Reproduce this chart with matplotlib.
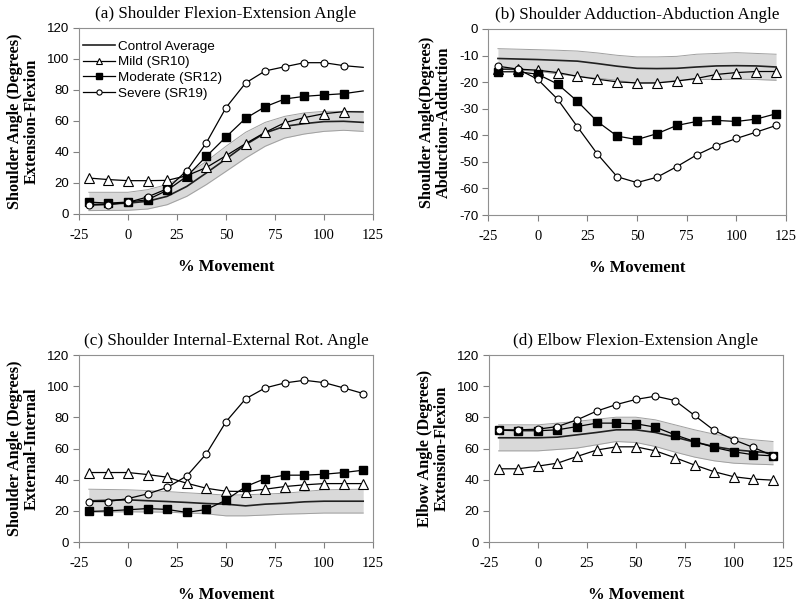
import matplotlib
matplotlib.use("Agg")
import matplotlib.pyplot as plt
import numpy as np

plt.rcParams["axes.unicode_minus"] = False

# % movement sample points
pct = [-20, -10, 0, 10, 20, 30, 40, 50, 60, 70, 80, 90, 100, 110, 120]

# (a) shoulder flexion-extension
a_mild = [23.2, 22.2, 21.5, 21.5, 21.7, 24.7, 30.0, 37.6, 45.4, 52.7, 58.9, 62.2, 64.7, 66.0, 65.8]
a_mod = [7.7, 7.0, 7.7, 9.2, 15.3, 24.3, 37.2, 49.7, 61.7, 69.2, 74.2, 75.9, 76.8, 77.6, 79.4]
a_sev = [5.8, 6.0, 7.5, 11.0, 16.3, 28.0, 46.0, 68.6, 84.5, 92.3, 95.0, 97.6, 97.6, 95.7, 94.6]
a_ctrl = [6.0, 6.5, 7.0, 8.2, 11.4, 17.8, 26.5, 35.5, 44.7, 52.3, 56.6, 58.3, 59.6, 59.8, 59.1]
a_hi = [14.0, 14.0, 14.0, 15.7, 19.0, 25.4, 34.0, 43.7, 52.7, 59.1, 63.0, 65.2, 66.2, 66.2, 66.2]
a_lo = [2.2, 2.3, 2.4, 3.2, 6.0, 11.4, 19.0, 27.5, 36.1, 43.7, 49.0, 51.6, 53.3, 54.0, 53.3]

# (b) shoulder adduction-abduction
b_mild = [-15.1, -15.1, -15.5, -16.4, -17.8, -18.9, -19.9, -20.3, -20.3, -19.6, -18.6, -17.1, -16.4, -16.0, -16.0]
b_mod = [-16.1, -16.1, -17.0, -20.7, -27.2, -34.8, -40.3, -41.6, -39.4, -36.3, -34.8, -34.4, -34.8, -33.9, -31.9]
b_sev = [-14.0, -15.1, -18.9, -26.4, -36.8, -47.0, -55.6, -57.8, -55.8, -51.8, -47.4, -43.9, -41.2, -38.8, -36.3]
b_ctrl = [-11.1, -11.3, -11.5, -11.8, -12.1, -13.0, -14.0, -14.8, -14.9, -14.8, -14.3, -13.9, -13.8, -13.9, -14.3]
b_hi = [-7.4, -7.6, -7.8, -8.0, -8.3, -9.0, -9.9, -10.5, -10.5, -10.3, -9.5, -9.2, -8.9, -9.2, -9.5]
b_lo = [-15.1, -15.5, -15.9, -16.9, -17.8, -18.5, -19.3, -20.5, -20.3, -19.3, -19.0, -19.0, -18.9, -19.0, -19.3]

# (c) shoulder internal-external rotation
c_mild = [44.6, 44.6, 44.6, 43.3, 41.6, 37.7, 34.5, 32.6, 32.4, 33.9, 35.6, 36.7, 37.5, 37.5, 37.5]
c_mod = [19.6, 20.0, 20.7, 21.5, 20.9, 19.0, 20.9, 26.9, 35.6, 40.7, 42.9, 42.9, 43.5, 44.6, 46.1]
c_sev = [26.0, 26.0, 27.9, 30.9, 35.0, 42.4, 56.7, 77.2, 91.9, 98.9, 102.1, 103.8, 102.3, 98.9, 95.3]
c_ctrl = [26.4, 26.8, 27.1, 26.5, 26.0, 25.4, 24.7, 24.3, 23.2, 24.3, 24.9, 25.8, 26.2, 26.2, 26.2]
c_hi = [33.9, 33.7, 33.5, 33.0, 32.4, 31.6, 30.9, 30.1, 30.3, 30.8, 31.3, 32.4, 33.5, 33.7, 33.9]
c_lo = [19.2, 19.3, 19.4, 19.3, 19.2, 18.6, 18.1, 16.8, 16.8, 17.3, 17.9, 18.2, 18.6, 18.6, 18.6]

# (d) elbow flexion-extension
d_mild = [47.0, 47.0, 48.7, 50.6, 54.9, 59.0, 61.1, 61.1, 58.5, 54.1, 49.4, 45.1, 41.9, 40.4, 39.7]
d_mod = [71.8, 71.4, 71.4, 72.0, 74.1, 76.3, 76.3, 75.9, 73.7, 68.8, 64.5, 60.7, 57.9, 56.0, 55.3]
d_sev = [72.0, 72.0, 72.4, 74.1, 78.4, 84.0, 88.2, 91.5, 93.6, 90.8, 81.2, 71.6, 65.6, 60.7, 55.3]
d_ctrl = [66.9, 66.9, 66.9, 67.3, 68.8, 70.3, 72.0, 72.0, 70.3, 67.3, 64.1, 61.3, 59.2, 58.1, 57.0]
d_hi = [75.2, 75.2, 75.2, 76.3, 77.4, 78.8, 80.1, 80.1, 78.4, 75.2, 72.0, 69.2, 67.1, 65.6, 64.5]
d_lo = [58.5, 58.5, 58.5, 59.4, 60.3, 62.4, 64.5, 63.9, 61.3, 57.7, 54.5, 52.1, 50.6, 50.0, 49.6]

titles = ["(a) Shoulder Flexion-Extension Angle",
          "(b) Shoulder Adduction-Abduction Angle",
          "(c) Shoulder Internal-External Rot. Angle",
          "(d) Elbow Flexion-Extension Angle"]
ylabels = ["Shoulder Angle (Degrees)\nExtension-Flexion",
           "Shoulder Angle(Degrees)\nAbduction-Adduction",
           "Shoulder Angle (Degrees)\nExternal-Internal",
           "Elbow Angle (Degrees)\nExtension-Flexion"]
xticks = [-25, 0, 25, 50, 75, 100, 125]

panels = [
    (a_mild, a_mod, a_sev, a_ctrl, a_hi, a_lo, (0, 120), 20),
    (b_mild, b_mod, b_sev, b_ctrl, b_hi, b_lo, (-70, 0), 10),
    (c_mild, c_mod, c_sev, c_ctrl, c_hi, c_lo, (0, 120), 20),
    (d_mild, d_mod, d_sev, d_ctrl, d_hi, d_lo, (0, 120), 20),
]
rects = [
    [0.09875, 0.6457, 0.3675, 0.308],
    [0.61, 0.644, 0.3725, 0.308],
    [0.09875, 0.1026, 0.3675, 0.3096],
    [0.611, 0.1026, 0.3675, 0.3096],
]

serif = "Liberation Serif"
sans = "Liberation Sans"

fig = plt.figure(figsize=(8, 6.04), dpi=100)

for i, (mild, mod, sev, ctrl, hi, lo, ylim, ystep) in enumerate(panels):
    ax = fig.add_axes(rects[i])
    # markers stop at 110 in panel (a)
    mk = list(range(len(pct) - 1)) if i == 0 else None

    ax.fill_between(pct, lo, hi, color="#d9d9d9", lw=0)
    ax.plot(pct, hi, color="#a0a0a0", lw=0.7)
    ax.plot(pct, lo, color="#a0a0a0", lw=0.7)
    ax.plot(pct, ctrl, color="#202020", lw=1.2, label="Control Average")
    ax.plot(pct, mild, color="black", lw=0.9, marker="^", ms=6.5, mfc="white",
            mec="black", mew=0.8, markevery=mk, label="Mild (SR10)")
    ax.plot(pct, mod, color="black", lw=0.9, marker="s", ms=5.5, mfc="black",
            mec="black", markevery=mk, label="Moderate (SR12)")
    ax.plot(pct, sev, color="black", lw=0.9, marker="o", ms=5, mfc="white",
            mec="black", mew=0.8, markevery=mk, label="Severe (SR19)")

    ax.set_xlim(-25, 125)
    ax.set_ylim(*ylim)
    ax.set_xticks(xticks)
    ax.set_yticks(np.arange(ylim[0], ylim[1] + 1, ystep))
    for s in ax.spines.values():
        s.set_color("#909090")
    ax.tick_params(axis="both", direction="out", length=4, color="#808080", width=0.8)
    for lab in ax.get_xticklabels():
        lab.set_fontfamily(serif)
        lab.set_fontsize(10.5)
    for lab in ax.get_yticklabels():
        lab.set_fontfamily(sans)
        lab.set_fontsize(9.5)
    ax.tick_params(axis="x", pad=7)
    ax.tick_params(axis="y", pad=3)

    ax.set_title(titles[i], fontfamily=serif, fontsize=12.3, pad=7)
    ax.set_ylabel(ylabels[i], fontfamily=serif, fontsize=11.7, fontweight="bold",
                  linespacing=1.1, labelpad=5)
    ax.set_xlabel("% Movement", fontfamily=serif, fontsize=12,
                  fontweight="bold", labelpad=12)

    if i == 0:
        ax.legend(loc="upper left", bbox_to_anchor=(-0.02, 0.985), frameon=False,
                  prop={"family": sans, "size": 9.7}, handlelength=2.4,
                  handletextpad=0.2, labelspacing=0.25, borderaxespad=0.3,
                  markerscale=0.75)

fig.savefig("out.png", dpi=100)
